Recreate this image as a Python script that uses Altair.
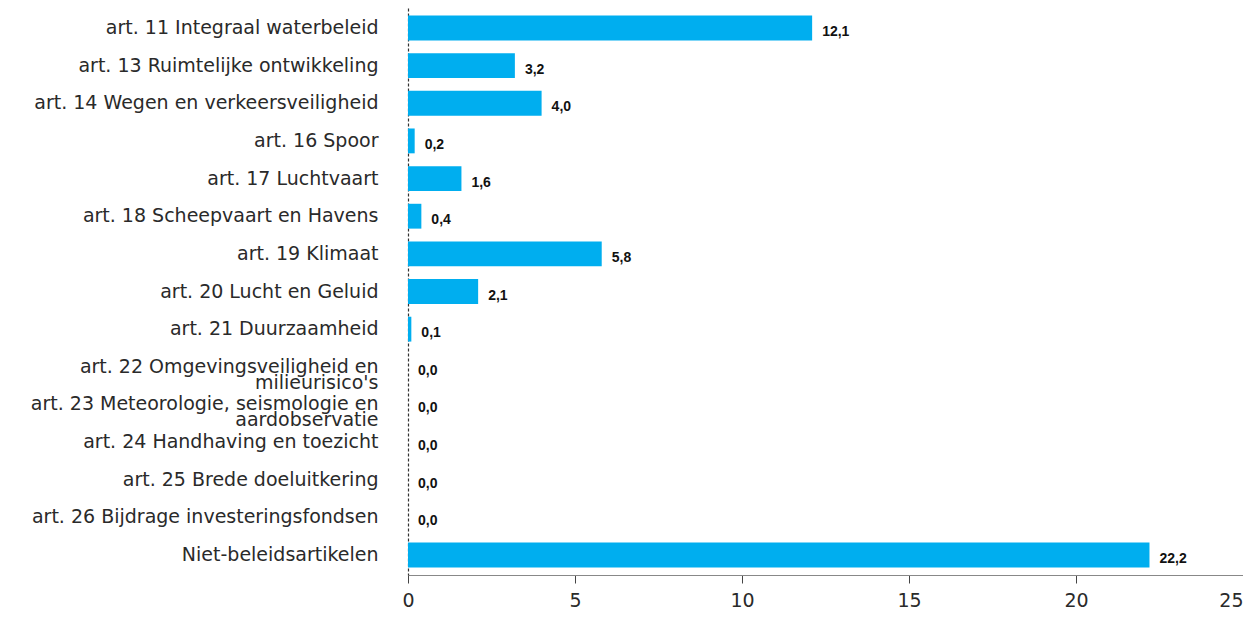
import altair as alt
import pandas as pd

categories = [
    "art. 11 Integraal waterbeleid",
    "art. 13 Ruimtelijke ontwikkeling",
    "art. 14 Wegen en verkeersveiligheid",
    "art. 16 Spoor",
    "art. 17 Luchtvaart",
    "art. 18 Scheepvaart en Havens",
    "art. 19 Klimaat",
    "art. 20 Lucht en Geluid",
    "art. 21 Duurzaamheid",
    "art. 22 Omgevingsveiligheid en\nmilieurisico's",
    "art. 23 Meteorologie, seismologie en\naardobservatie",
    "art. 24 Handhaving en toezicht",
    "art. 25 Brede doeluitkering",
    "art. 26 Bijdrage investeringsfondsen",
    "Niet-beleidsartikelen",
]
values = [12.1, 3.2, 4.0, 0.2, 1.6, 0.4, 5.8, 2.1, 0.1, 0.0, 0.0, 0.0, 0.0, 0.0, 22.2]
labels = [f"{v:.1f}".replace(".", ",") for v in values]
ticks = [0, 5, 10, 15, 20, 25]

df = pd.DataFrame({"cat": categories, "val": values, "lab": labels})

font = "DejaVu Sans"

y = alt.Y(
    "cat:N",
    sort=categories,
    title=None,
    scale=alt.Scale(paddingInner=0.34, paddingOuter=0.2),
    axis=alt.Axis(
        labelExpr="split(datum.label, '\\n')",
        labelFontSize=19,
        labelFont=font,
        labelColor="#2a2a2a",
        labelPadding=30,
        labelLimit=500,
        ticks=False,
        domainColor="#333",
        domainDash=[3, 2],
        domainWidth=1.2,
        labelLineHeight=16,
    ),
)
x = alt.X(
    "val:Q",
    title=None,
    scale=alt.Scale(domain=[0, 25], nice=False),
    axis=alt.Axis(
        values=ticks,
        grid=False,
        labelFontSize=19,
        labelFont=font,
        labelColor="#2a2a2a",
        labelAlign={"condition": {"test": "datum.value == 25", "value": "right"}, "value": "center"},
        domainColor="#888",
        tickColor="#444",
        tickSize=8,
        labelPadding=8,
    ),
)

bars = alt.Chart(df).mark_bar(color="#00AEEF").encode(x=x, y=y)
text = alt.Chart(df).mark_text(
    align="left", baseline="middle", dx=10, dy=4, fontSize=14, fontWeight="bold",
    font="Liberation Sans", color="#111"
).encode(x="val:Q", y=alt.Y("cat:N", sort=categories), text="lab:N")

chart = (
    alt.layer(bars, text)
    .properties(width=835, height=567, autosize=alt.AutoSizeParams(type="none"),
                padding={"left": 400, "top": 0, "right": 0, "bottom": 36})
    .configure_view(stroke=None)
)
chart.save("out.html", embed_options={"renderer": "svg", "actions": False})
